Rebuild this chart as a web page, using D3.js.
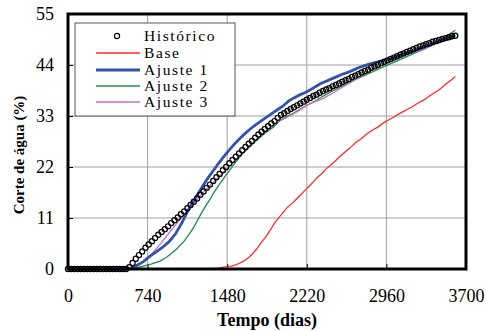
<!DOCTYPE html>
<html>
<head>
<meta charset="utf-8">
<script src="https://cdn.jsdelivr.net/npm/d3@7"></script>
<style>
  body { margin: 0; background: #fff; }
  svg text { font-family: "Liberation Serif", "DejaVu Serif", "Times New Roman", Times, serif; }
</style>
</head>
<body>
<div id="chart"></div>
<script>
var xTicks = [0, 740, 1480, 2220, 2960, 3700];
var yTicks = [0, 11, 22, 33, 44, 55];

// Historico, one point every 30 days from day 0
var histStep = 30;
var histValues = [0, 0, 0, 0, 0, 0, 0, 0, 0, 0, 0, 0, 0, 0, 0, 0, 0, 0, 0,
  0.4, 1.3, 2.2, 3.0, 3.8, 4.6, 5.3, 6.0, 6.7, 7.4, 8.0, 8.6, 9.2, 9.9, 10.5, 11.1,
  11.8, 12.4, 13.1, 13.8, 14.5, 15.2, 16.0, 16.7, 17.5, 18.2, 19.0, 19.8, 20.5, 21.3,
  22.0, 22.8, 23.5, 24.2, 24.9, 25.6, 26.3, 27.0, 27.6, 28.3, 29.0, 29.6, 30.2, 30.8,
  31.4, 31.9, 32.6, 33.2, 33.6, 34.1, 34.5, 34.9, 35.3, 35.7, 36.1, 36.5, 36.9, 37.3,
  37.6, 38.0, 38.4, 38.7, 39.0, 39.4, 39.7, 40.0, 40.4, 40.7, 41.0, 41.4, 41.7, 42.0,
  42.4, 42.7, 43.0, 43.4, 43.7, 44.0, 44.4, 44.7, 45.0, 45.3, 45.6, 45.9, 46.2, 46.5,
  46.8, 47.1, 47.4, 47.7, 48.0, 48.2, 48.5, 48.7, 49.0, 49.2, 49.4, 49.6, 49.8, 50.0,
  50.2, 50.3];

var baseDays = [0, 600, 1300, 1400, 1450, 1480, 1520, 1560, 1600, 1640, 1680, 1720, 1760, 1800,
  1840, 1880, 1920, 1960, 2000, 2040, 2080, 2120, 2160, 2200, 2240, 2280, 2320, 2360, 2400,
  2440, 2480, 2520, 2560, 2600, 2640, 2680, 2720, 2760, 2800, 2840, 2880, 2920, 2960, 3000,
  3040, 3080, 3120, 3160, 3200, 3240, 3280, 3320, 3360, 3400, 3440, 3480, 3520, 3560, 3600];
var baseValues = [0, 0, 0, 0.2, 0.4, 0.5, 0.6, 0.9, 1.3, 1.8, 2.5, 3.4, 4.5, 5.8,
  7.0, 8.4, 9.9, 11.1, 12.2, 13.3, 14.1, 15.0, 15.9, 16.9, 17.8, 18.8, 19.8, 20.6, 21.6,
  22.4, 23.2, 24.1, 24.9, 25.7, 26.5, 27.4, 28.0, 28.8, 29.5, 30.1, 30.6, 31.3, 31.9, 32.4,
  32.9, 33.5, 34.0, 34.5, 35.0, 35.6, 36.1, 36.6, 37.3, 37.9, 38.5, 39.2, 40.0, 40.7, 41.5];

var aj1Days = [0, 560, 600, 650, 700, 760, 820, 880, 940, 1000, 1060, 1120, 1165, 1200, 1250,
  1300, 1350, 1400, 1450, 1500, 1550, 1600, 1650, 1700, 1750, 1800, 1850, 1900, 1950, 2000,
  2050, 2100, 2150, 2200, 2250, 2300, 2350, 2400, 2450, 2500, 2550, 2600, 2650, 2700, 2750,
  2800, 2850, 2900, 2950, 3000, 3050, 3100, 3150, 3200, 3250, 3300, 3350, 3400, 3450, 3500,
  3550, 3600];
var aj1Values = [0, 0, 0.3, 0.9, 1.6, 2.7, 3.7, 4.7, 5.9, 7.6, 10.0, 12.8, 14.6, 15.9, 17.8,
  19.6, 21.2, 22.8, 24.3, 25.7, 27.0, 28.2, 29.3, 30.3, 31.2, 32.0, 32.8, 33.6, 34.4, 35.2,
  36.2, 36.9, 37.5, 38.0, 38.6, 39.3, 40.0, 40.5, 41.0, 41.5, 42.0, 42.4, 42.9, 43.4, 43.8,
  44.2, 44.5, 44.8, 45.1, 45.4, 45.8, 46.2, 46.6, 47.0, 47.4, 47.9, 48.3, 48.7, 49.1, 49.6,
  50.0, 50.5];

var aj2Days = [0, 560, 620, 700, 780, 855, 920, 1010, 1080, 1165, 1227, 1280, 1320, 1351, 1400,
  1480, 1550, 1620, 1692, 1760, 1830, 1909, 1971, 2030, 2095, 2160, 2220, 2300, 2373, 2467,
  2550, 2650, 2750, 2850, 2962, 3050, 3150, 3250, 3303, 3400, 3500, 3600];
var aj2Values = [0, 0, 0.2, 0.6, 1.1, 1.7, 2.6, 4.3, 6.0, 8.8, 11.5, 13.6, 15.0, 16.3, 18.0,
  20.6, 22.8, 24.8, 26.4, 27.9, 29.3, 30.6, 32.0, 32.8, 33.6, 34.5, 35.3, 36.3, 37.3, 38.5,
  39.5, 40.7, 41.7, 42.7, 43.9, 44.8, 45.8, 46.8, 47.3, 48.5, 49.9, 51.5];

var aj3Days = [0, 560, 620, 700, 780, 855, 930, 1010, 1080, 1140, 1200, 1260, 1320, 1400, 1480,
  1560, 1640, 1720, 1800, 1880, 1960, 2064, 2150, 2225, 2300, 2373, 2450, 2550, 2650, 2750,
  2850, 2962, 3050, 3150, 3250, 3303, 3400, 3500, 3600];
var aj3Values = [0, 0, 0.4, 1.5, 3.3, 5.3, 7.5, 9.8, 11.8, 13.5, 15.0, 16.6, 18.0, 19.9, 21.7,
  23.6, 25.4, 27.3, 29.0, 30.5, 31.9, 33.0, 34.2, 35.4, 36.1, 36.8, 37.8, 39.2, 40.5, 41.9,
  43.3, 44.4, 45.4, 46.3, 47.0, 47.4, 48.3, 49.3, 50.3];

var serifFont = "'Liberation Serif', 'DejaVu Serif', 'Times New Roman', serif";
var width = 486, height = 331;
var margin = {left: 68, right: 20, top: 14, bottom: 62};

var x = d3.scaleLinear().domain([0, 3700]).range([margin.left, width - margin.right]);
var y = d3.scaleLinear().domain([0, 55]).range([height - margin.bottom, margin.top]);

var svg = d3.select("#chart").append("svg")
    .attr("width", width)
    .attr("height", height)
    .style("font-family", serifFont);

// grid
svg.append("g")
    .selectAll("line")
    .data(xTicks.slice(1, -1))
    .enter().append("line")
    .attr("x1", function(d) { return x(d); })
    .attr("x2", function(d) { return x(d); })
    .attr("y1", y(0)).attr("y2", y(55))
    .attr("stroke", "#a0a0a0").attr("stroke-width", 1);

svg.append("g")
    .selectAll("line")
    .data(yTicks.slice(1, -1))
    .enter().append("line")
    .attr("y1", function(d) { return y(d); })
    .attr("y2", function(d) { return y(d); })
    .attr("x1", x(0)).attr("x2", x(3700))
    .attr("stroke", "#a0a0a0").attr("stroke-width", 1);

// axes, ticks pointing inside
var xAxis = d3.axisBottom(x).tickValues(xTicks).tickFormat(d3.format("d")).tickSize(-5).tickPadding(20);
var yAxis = d3.axisLeft(y).tickValues(yTicks).tickFormat(d3.format("d")).tickSize(-5).tickPadding(14);

var gx = svg.append("g")
    .attr("transform", "translate(0," + y(0) + ")")
    .call(xAxis);
var gy = svg.append("g")
    .attr("transform", "translate(" + x(0) + ",0)")
    .call(yAxis);

[gx, gy].forEach(function(g) {
  g.attr("font-family", null).attr("font-size", null);
  g.select(".domain").remove();
  g.selectAll(".tick line").attr("stroke", "#000").attr("stroke-width", 1);
  g.selectAll(".tick text")
    .style("font-family", serifFont)
    .style("font-size", "18px")
    .attr("fill", "#000");
});

var line = d3.line()
    .x(function(d) { return x(d[0]); })
    .y(function(d) { return y(d[1]); });

var series = [
  {name: "Base", days: baseDays, values: baseValues, color: "#ff2a2a", w: 1.3},
  {name: "Ajuste 2", days: aj2Days, values: aj2Values, color: "#1f8c4a", w: 1.3},
  {name: "Ajuste 3", days: aj3Days, values: aj3Values, color: "#c272c4", w: 1.3},
  {name: "Ajuste 1", days: aj1Days, values: aj1Values, color: "#3352a8", w: 2.8}
];

svg.selectAll(".serie")
    .data(series)
    .enter().append("path")
    .attr("class", "serie")
    .attr("fill", "none")
    .attr("stroke", function(d) { return d.color; })
    .attr("stroke-width", function(d) { return d.w; })
    .attr("d", function(d) { return line(d3.zip(d.days, d.values)); });

svg.selectAll(".hist")
    .data(histValues)
    .enter().append("circle")
    .attr("class", "hist")
    .attr("cx", function(d, i) { return x(i * histStep); })
    .attr("cy", function(d) { return y(d); })
    .attr("r", 2.6)
    .attr("fill", "none")
    .attr("stroke", "#000")
    .attr("stroke-width", 1.2);

// frame
svg.append("rect")
    .attr("x", x(0)).attr("y", y(55))
    .attr("width", x(3700) - x(0))
    .attr("height", y(0) - y(55))
    .attr("fill", "none")
    .attr("stroke", "#000")
    .attr("stroke-width", 3);

// axis titles
svg.append("text")
    .attr("x", (x(0) + x(3700)) / 2)
    .attr("y", 326)
    .attr("text-anchor", "middle")
    .style("font-size", "18px")
    .style("font-weight", "bold")
    .text("Tempo (dias)");

svg.append("text")
    .attr("transform", "translate(24,155) rotate(-90)")
    .attr("text-anchor", "middle")
    .style("font-size", "15px")
    .style("font-weight", "bold")
    .text("Corte de água (%)");

// legend
var legend = svg.append("g");
legend.append("rect")
    .attr("x", 75).attr("y", 23)
    .attr("width", 160).attr("height", 93)
    .attr("fill", "#fff")
    .attr("stroke", "#555")
    .attr("stroke-width", 1);

var legendItems = [
  {name: "Histórico", circle: true},
  {name: "Base", color: "#ff2a2a", w: 1.3},
  {name: "Ajuste 1", color: "#3352a8", w: 2.8},
  {name: "Ajuste 2", color: "#1f8c4a", w: 1.3},
  {name: "Ajuste 3", color: "#c272c4", w: 1.3}
];
var legendY = [36, 53, 70, 86, 102];

var item = legend.selectAll(".item")
    .data(legendItems)
    .enter().append("g")
    .attr("class", "item")
    .attr("transform", function(d, i) { return "translate(0," + legendY[i] + ")"; });

item.filter(function(d) { return d.circle; }).append("circle")
    .attr("cx", 117).attr("cy", 0).attr("r", 2.6)
    .attr("fill", "none").attr("stroke", "#000").attr("stroke-width", 1.2);

item.filter(function(d) { return !d.circle; }).append("line")
    .attr("x1", 96).attr("x2", 140)
    .attr("y1", 0).attr("y2", 0)
    .attr("stroke", function(d) { return d.color; })
    .attr("stroke-width", function(d) { return d.w; });

item.append("text")
    .attr("x", 144)
    .attr("y", 5)
    .style("font-size", "15.5px")
    .style("letter-spacing", "1.6px")
    .text(function(d) { return d.name; });
</script>
</body>
</html>
